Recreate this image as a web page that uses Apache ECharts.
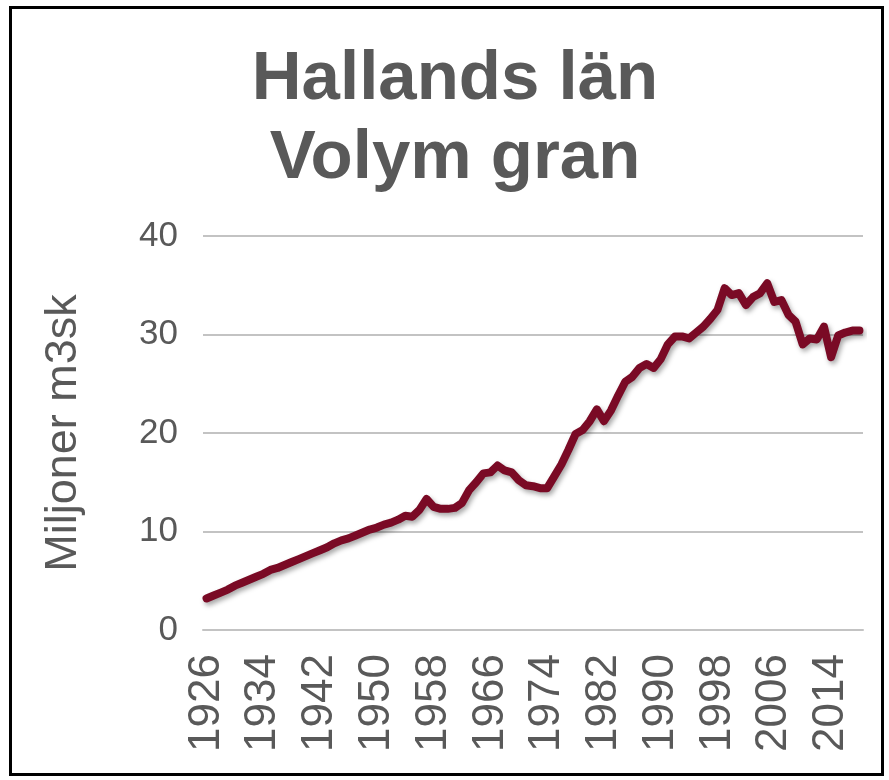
<!DOCTYPE html>
<html>
<head>
<meta charset="utf-8">
<script src="https://cdn.jsdelivr.net/npm/echarts@6/dist/echarts.min.js"></script>
<style>
  html, body { margin: 0; padding: 0; background: #fff; }
  #chart { width: 889px; height: 780px; }
</style>
</head>
<body>
<div id="chart"></div>
<script>
// år 1926–2018
const years = [];
for (let y = 1926; y <= 2018; y++) years.push(String(y));

// volym gran, miljoner m3sk
const volume = [
  3.2, 3.5, 3.8, 4.1, 4.5, 4.8, 5.1, 5.4, 5.7, 6.1,
  6.3, 6.6, 6.9, 7.2, 7.5, 7.8, 8.1, 8.4, 8.8, 9.1,
  9.3, 9.6, 9.9, 10.2, 10.4, 10.7, 10.9, 11.2, 11.6, 11.5,
  12.2, 13.3, 12.5, 12.3, 12.3, 12.4, 12.9, 14.2, 15.0, 15.9,
  16.0, 16.7, 16.2, 16.0, 15.2, 14.7, 14.6, 14.4, 14.4, 15.6,
  16.8, 18.3, 19.9, 20.3, 21.2, 22.4, 21.2, 22.3, 23.8, 25.2,
  25.7, 26.6, 27.0, 26.6, 27.5, 29.0, 29.8, 29.8, 29.6, 30.2,
  30.8, 31.6, 32.5, 34.7, 34.0, 34.2, 33.0, 33.8, 34.2, 35.2,
  33.3, 33.5, 32.0, 31.3, 29.0, 29.6, 29.5, 30.8, 27.7, 29.9,
  30.2, 30.4, 30.4,
];

const yTicks = [0, 10, 20, 30, 40];

const chart = echarts.init(document.getElementById('chart'));

const option = {
  animation: false,
  title: {
    text: 'Hallands län\nVolym gran',
    left: 455,
    top: 40,
    padding: 0,
    textAlign: 'center',
    textStyle: {
      fontFamily: 'Liberation Sans',
      fontWeight: 'bold',
      fontSize: 69,
      lineHeight: 79,
      color: '#595959',
    },
  },
  graphic: [
    {
      type: 'rect',
      shape: { x: 10.5, y: 7.5, width: 872, height: 767 },
      style: { fill: null, stroke: '#000', lineWidth: 3 },
      silent: true,
    },
  ],
  grid: {
    left: 203,
    right: 26,
    top: 236,
    bottom: 150,
  },
  xAxis: {
    type: 'category',
    data: years,
    boundaryGap: true,
    axisLine: { show: true, lineStyle: { color: '#c3c3c3', width: 2 } },
    axisTick: { show: false },
    axisLabel: {
      interval: 7,
      rotate: 90,
      margin: 24,
      fontFamily: 'Liberation Sans',
      fontSize: 44,
      color: '#595959',
    },
  },
  yAxis: {
    type: 'value',
    min: yTicks[0],
    max: yTicks[yTicks.length - 1],
    interval: 10,
    name: 'Miljoner m3sk',
    nameLocation: 'middle',
    nameGap: 117,
    nameTextStyle: {
      fontFamily: 'Liberation Sans',
      fontSize: 45,
      color: '#595959',
    },
    axisLine: { show: false },
    axisTick: { show: false },
    splitLine: { lineStyle: { color: '#c3c3c3', width: 2 } },
    axisLabel: {
      margin: 25,
      fontFamily: 'Liberation Sans',
      fontSize: 35,
      color: '#595959',
    },
  },
  series: [
    {
      type: 'line',
      data: volume,
      showSymbol: false,
      lineStyle: {
        color: '#7a0a25',
        width: 8,
        cap: 'round',
        join: 'round',
        shadowColor: 'rgba(0,0,0,0.35)',
        shadowBlur: 5,
        shadowOffsetX: 2,
        shadowOffsetY: 3,
      },
    },
  ],
};

chart.setOption(option);
</script>
</body>
</html>
